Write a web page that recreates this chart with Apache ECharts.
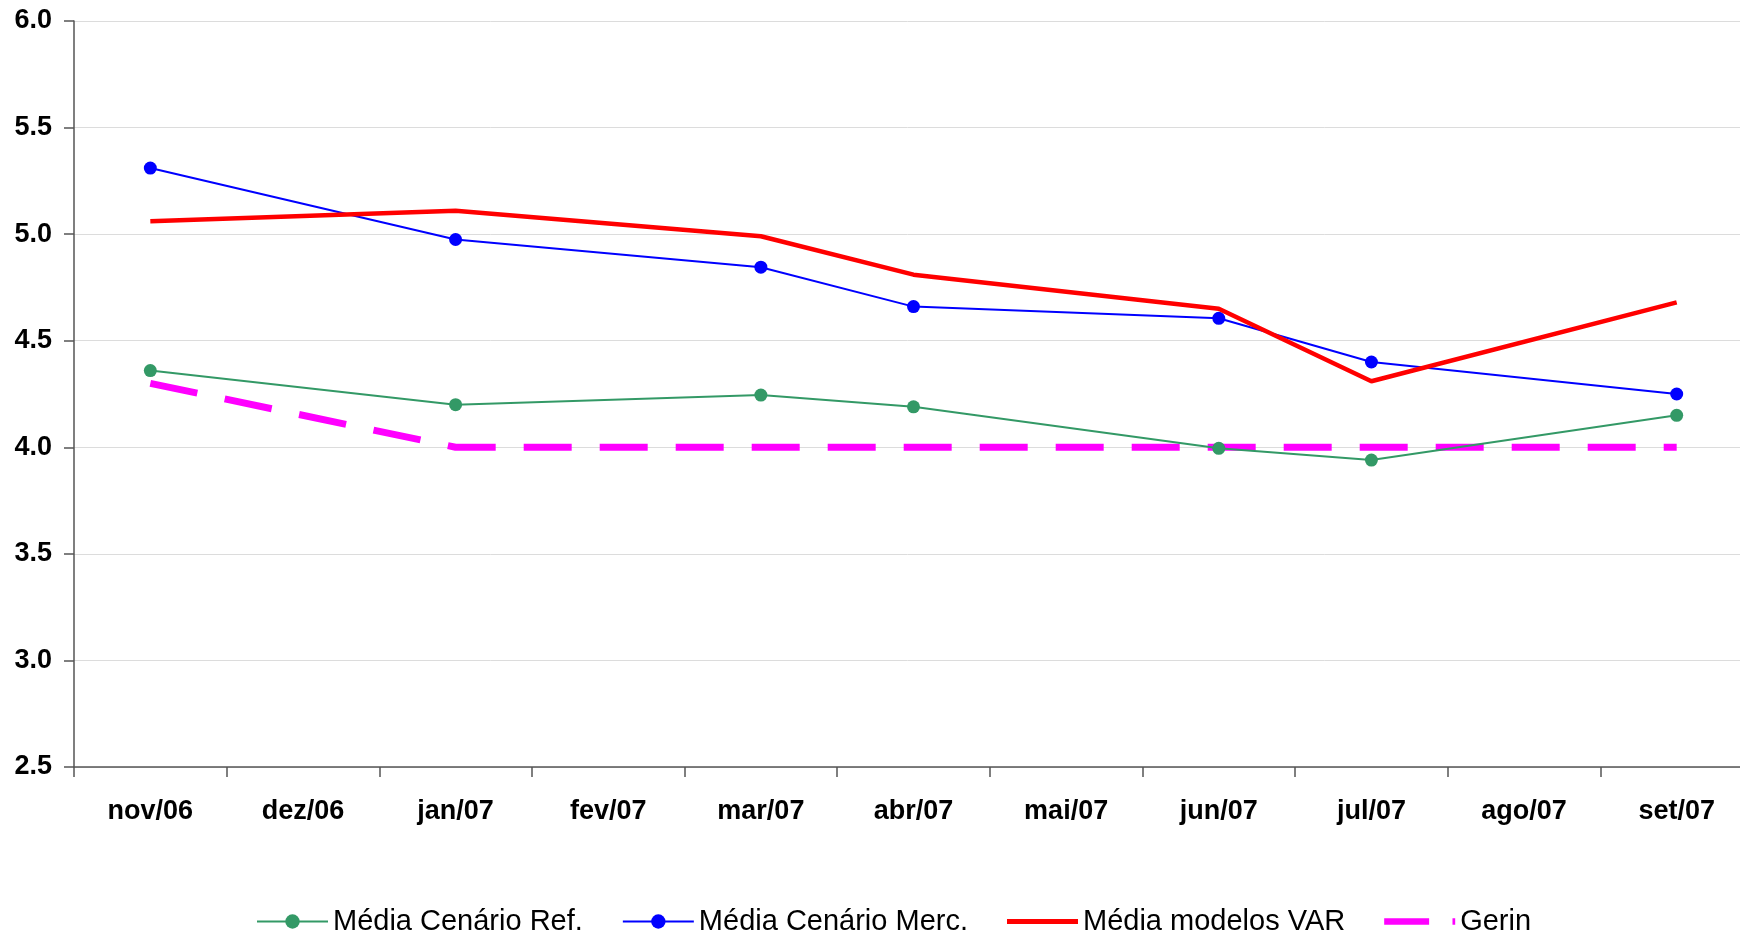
<!DOCTYPE html>
<html>
<head>
<meta charset="utf-8">
<script src="https://cdn.jsdelivr.net/npm/echarts@6/dist/echarts.min.js"></script>
<style>
  html, body { margin: 0; padding: 0; background: #fff; }
  #main { width: 1740px; height: 934px; }
</style>
</head>
<body>
<div id="main"></div>
<script>
// meses do eixo x
const months = ['nov/06', 'dez/06', 'jan/07', 'fev/07', 'mar/07', 'abr/07', 'mai/07', 'jun/07', 'jul/07', 'ago/07', 'set/07'];
// séries (null = sem observação no mês)
const mediaRef = [4.36, null, 4.20, null, 4.245, 4.19, null, 3.995, 3.94, null, 4.15];
const mediaMerc = [5.31, null, 4.975, null, 4.845, 4.66, null, 4.605, 4.40, null, 4.25];
const mediaVar = [5.06, null, 5.11, null, 4.99, 4.81, null, 4.65, 4.31, null, 4.68];
const gerin = [4.30, null, 4.00, null, 4.00, 4.00, null, 4.00, 4.00, null, 4.00];
const yTicks = { min: 2.5, max: 6.0, step: 0.5 };

const chart = echarts.init(document.getElementById('main'));
const option = {
  backgroundColor: '#ffffff',
  animation: false,
  textStyle: { fontFamily: 'Liberation Sans, Arial, sans-serif' },
  grid: { left: 74, right: -13, top: 21, bottom: 167, outerBoundsMode: 'none', containLabel: false },
  legend: {
    left: 251,
    bottom: -7,
    itemWidth: 71,
    itemHeight: 18,
    itemGap: 39,
    textStyle: { fontSize: 29, color: '#000', fontFamily: 'Liberation Sans, Arial, sans-serif' },
    data: [
      { name: 'Média Cenário Ref.' },
      { name: 'Média Cenário Merc.' },
      // ícones só de linha (sem marcador)
      { name: 'Média modelos VAR', icon: 'path://M0,0 H71 V5 H0 Z' },
      { name: 'Gerin', icon: 'path://M0,0 H50 V7 H0 Z M76,0 H79 V7 H76 Z' }
    ]
  },
  xAxis: {
    type: 'category',
    data: months,
    boundaryGap: true,
    axisLine: { lineStyle: { color: '#555', width: 1.5 } },
    axisTick: { show: true, length: 10, lineStyle: { color: '#555', width: 1.5 } },
    axisLabel: { fontSize: 27, fontWeight: 'bold', color: '#000', margin: 31 },
    splitLine: { show: false }
  },
  yAxis: {
    type: 'value',
    min: yTicks.min,
    max: yTicks.max,
    interval: yTicks.step,
    axisLine: { show: true, lineStyle: { color: '#555', width: 1.5 } },
    axisTick: { show: true, length: 10, lineStyle: { color: '#555', width: 1.5 } },
    axisLabel: {
      fontSize: 27, fontWeight: 'bold', color: '#000', margin: 22,
      formatter: function (v) { return v.toFixed(1); }
    },
    splitLine: { show: true, lineStyle: { color: '#dcdcdc', width: 1 } }
  },
  series: [
    {
      name: 'Média Cenário Ref.',
      type: 'line',
      data: mediaRef,
      connectNulls: true,
      symbol: 'circle',
      symbolSize: 13,
      color: '#339966',
      lineStyle: { color: '#339966', width: 2 },
      itemStyle: { color: '#339966' },
      z: 3
    },
    {
      name: 'Média Cenário Merc.',
      type: 'line',
      data: mediaMerc,
      connectNulls: true,
      symbol: 'circle',
      symbolSize: 13,
      color: '#0000ff',
      lineStyle: { color: '#0000ff', width: 2 },
      itemStyle: { color: '#0000ff' },
      z: 4
    },
    {
      name: 'Média modelos VAR',
      type: 'line',
      data: mediaVar,
      connectNulls: true,
      symbol: 'none',
      color: '#ff0000',
      lineStyle: { color: '#ff0000', width: 4.5 },
      z: 5
    },
    {
      name: 'Gerin',
      type: 'line',
      data: gerin,
      connectNulls: true,
      symbol: 'none',
      color: '#ff00ff',
      lineStyle: { color: '#ff00ff', width: 7, type: [48, 28] },
      z: 2
    }
  ]
};
chart.setOption(option);
window.onresize = chart.resize;
</script>
</body>
</html>
